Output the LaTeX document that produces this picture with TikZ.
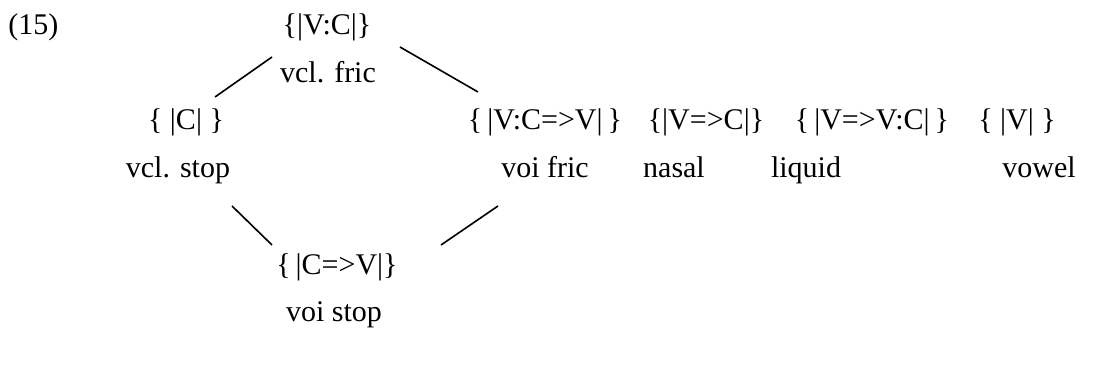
\documentclass[tikz,border=0pt]{standalone}
\usepackage{fontspec}
\setmainfont{Liberation Serif}
\begin{document}
\begin{tikzpicture}[x=0.4pt,y=-0.4pt,
  lbl/.style={inner sep=0pt,anchor=base,font=\fontsize{12}{14}\selectfont},
  link/.style={line width=0.65pt}]
\useasboundingbox (0,0) rectangle (1101,372);
\node[lbl,anchor=base west] (ex) at (8,35) {(15)};
\node[lbl] (vc) at (327,35) {\{|V:C|\}};
\node[lbl] (vclfric) at (328,83) {vcl. fric};
\node[lbl] (c) at (186,130) {\{ |C| \}};
\node[lbl] (vcv) at (545,130) {\{\,|V:C=>V|\,\}};
\node[lbl] (vtc) at (706,130) {\{|V=>C|\}};
\node[lbl] (vtvc) at (872,130) {\{\,|V=>V:C|\,\}};
\node[lbl] (v) at (1017,130) {\{ |V| \}};
\node[lbl] (vclstop) at (178,178) {vcl. stop};
\node[lbl] (voifric) at (545,178) {voi fric};
\node[lbl] (nasal) at (674,178) {nasal};
\node[lbl] (liquid) at (806,178) {liquid};
\node[lbl] (vowel) at (1039,178) {vowel};
\node[lbl] (cv) at (337,275) {\{\,|C=>V|\}};
\node[lbl] (voistop) at (334,322) {voi stop};
\coordinate (a1) at (215,97);
\coordinate (a2) at (272,57);
\coordinate (b1) at (400,47);
\coordinate (b2) at (478,92);
\coordinate (c1) at (232,206);
\coordinate (c2) at (272,245);
\coordinate (d1) at (498,206);
\coordinate (d2) at (441,245);
\draw[link] (a1) -- (a2);
\draw[link] (b1) -- (b2);
\draw[link] (c1) -- (c2);
\draw[link] (d1) -- (d2);
\end{tikzpicture}
\end{document}
